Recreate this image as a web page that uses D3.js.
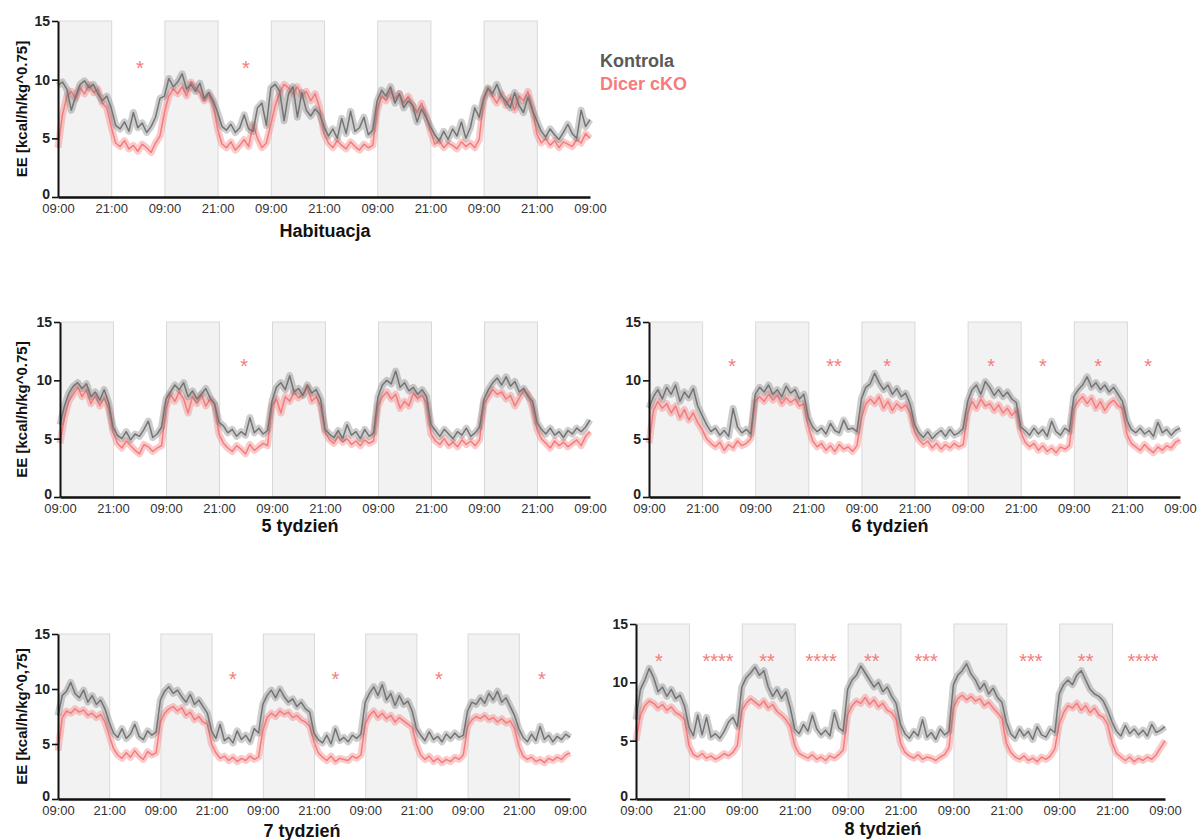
<!DOCTYPE html>
<html>
<head>
<meta charset="utf-8">
<script src="https://cdn.jsdelivr.net/npm/d3@7"></script>
<style>
  body { margin: 0; background: #fff; }
  svg { font-family: "Liberation Sans", Arial, sans-serif; }
</style>
</head>
<body>
<svg id="chart" width="1202" height="840"></svg>
<script>
// time axis: hours from 09:00 of day 1, one value per hour
const tickHours = [0, 12, 24, 36, 48, 60, 72, 84, 96, 108, 120];
const tickLabels = ["09:00","21:00","09:00","21:00","09:00","21:00","09:00","21:00","09:00","21:00","09:00"];
const shadedPeriods = [[0, 12], [24, 36], [48, 60], [72, 84], [96, 108]];
const yTicks = [0, 5, 10, 15];

// Habituacja
const habKontrola = [
  9.5, 9.8, 9.2, 7.4, 8.6, 9.6, 9.9, 9.3, 9.6, 8.8, 8.2, 8.6,
  7.6, 6.1, 5.8, 6.4, 5.6, 7.2, 5.9, 6.3, 5.5, 6.0, 6.8, 8.4,
  8.6, 10.1, 9.4, 9.8, 10.5, 9.2, 9.6, 9.0, 9.7, 8.4, 8.9, 8.2,
  7.2, 6.0, 5.7, 6.2, 5.5, 5.9, 7.0, 5.8, 5.6, 7.6, 8.0, 6.1,
  9.3, 9.6, 9.0, 6.5, 8.8, 9.4, 6.8, 8.9, 7.4, 6.9, 7.5, 7.1,
  6.0, 5.2, 5.8, 5.0, 6.7, 5.4, 7.3, 5.6, 5.9, 6.8, 5.3, 5.7,
  8.2, 9.1, 8.6, 9.4, 8.0, 8.8, 7.6, 8.2, 7.8, 6.4, 7.5, 6.8,
  6.0, 5.3, 4.8, 5.6, 4.9, 5.8, 5.2, 6.4, 5.0, 5.9, 7.6, 6.8,
  8.4, 9.3, 8.8, 9.6, 8.6, 8.2, 7.6, 8.9, 7.8, 7.2, 8.5, 7.4,
  6.5, 5.6, 5.1, 5.8, 5.3, 4.9, 5.5, 6.2, 5.4, 5.0, 7.4, 6.0,
  6.6
];
const habDicer = [
  4.2, 7.0, 8.6, 9.0, 8.4, 9.3, 8.8, 9.6, 8.9, 9.2, 8.0, 7.6,
  6.0, 4.6, 4.3, 4.8, 4.1, 4.4, 3.9, 4.5, 4.2, 3.8, 4.6, 5.2,
  7.2, 8.6, 9.2, 8.8, 9.4, 8.6, 9.8, 9.3, 8.9, 8.2, 8.7, 7.9,
  5.8, 4.5, 4.2, 4.7, 4.0, 4.4, 4.9, 4.3, 6.2, 5.0, 4.2, 4.6,
  6.2, 7.8, 8.9, 9.6, 9.3, 8.8, 9.4, 8.6, 9.0, 8.2, 8.8, 7.6,
  5.4, 4.6, 4.2, 4.8, 4.4, 4.1, 4.7, 4.3, 4.0, 4.5, 4.2, 4.4,
  7.4, 8.6, 8.2, 9.0, 8.4, 8.8, 8.0, 8.6, 7.8, 7.2, 8.0, 7.0,
  5.6, 4.5, 4.8, 4.2, 4.6, 4.4, 4.1, 4.7, 4.3, 4.6, 4.2, 4.9,
  8.2, 9.2, 8.6, 8.0, 8.8, 7.8, 8.5, 7.4, 8.6, 8.2, 9.0, 7.6,
  5.4, 4.6, 5.0, 4.4, 4.8, 4.2, 4.7, 4.5, 4.3, 4.9, 4.6, 5.4,
  5.0
];
const habStars = [[18.5, "*"], [42.4, "*"]];

// 5 tydzien
const w5Kontrola = [
  6.2, 7.8, 8.9, 9.5, 9.8, 9.3, 9.7, 8.6, 9.0, 8.3, 9.2, 8.1,
  6.0, 5.3, 5.0, 5.6, 4.9, 5.4, 5.2, 5.8, 6.5, 5.1, 5.4, 6.0,
  8.4, 9.0, 9.6, 9.2, 9.8, 8.6, 9.1, 8.4, 8.8, 9.3, 8.5, 8.0,
  6.4, 6.1, 5.5, 5.8, 5.2, 5.6, 5.3, 6.8, 5.5, 5.9, 5.4, 5.7,
  8.2, 9.4, 9.8, 9.2, 10.4, 9.0, 9.3, 8.7, 9.6, 8.9, 9.2, 8.4,
  5.8, 5.4, 5.1, 5.7, 5.0, 6.2, 5.3, 5.6, 5.0, 5.8, 5.2, 5.5,
  8.6, 9.6, 10.0, 9.7, 10.8, 9.4, 9.8, 9.1, 9.4, 8.8, 9.2, 8.6,
  6.2, 5.7, 5.2, 5.8, 5.4, 5.0, 5.6, 5.3, 5.9, 5.2, 5.5, 6.0,
  8.4, 9.2, 9.8, 10.2, 9.6, 10.3, 9.5, 9.9, 9.0, 9.3, 8.6, 8.2,
  6.4, 5.8, 5.4, 5.9, 5.3, 5.6, 5.1, 5.7, 5.4, 5.9, 5.6, 6.0,
  6.6
];
const w5Dicer = [
  4.6, 6.8, 8.2, 8.8, 9.4, 8.6, 9.2, 8.0, 8.7, 7.8, 8.5, 7.6,
  5.6, 4.6, 4.2, 4.8, 4.4, 4.0, 3.7, 4.5, 4.3, 3.9, 4.2, 4.4,
  7.6, 8.8, 8.2, 9.0, 8.4, 7.2, 8.6, 8.0, 8.8, 7.8, 8.4, 7.9,
  5.4, 4.6, 4.2, 3.9, 4.4, 4.1, 3.7, 4.5, 4.0, 4.3, 4.6, 4.4,
  7.8, 8.4, 7.2, 8.6, 8.2, 9.0, 8.5, 8.8, 9.4, 8.2, 8.6, 7.8,
  5.6, 4.9, 4.6, 5.2, 4.7, 5.0, 4.5, 4.8, 4.4, 4.9, 4.6, 4.8,
  7.8, 8.6, 9.0, 8.4, 8.8, 7.6, 8.2, 7.8, 8.9, 8.4, 8.7, 8.0,
  5.4, 4.8, 4.5, 5.0, 4.4, 4.7, 4.3, 4.9, 4.5, 4.8, 4.4, 4.9,
  8.0, 8.6, 9.2, 8.8, 9.0, 8.4, 8.7, 7.8, 8.5, 9.1, 8.8, 7.6,
  5.8, 5.0, 4.6, 4.2, 4.8, 4.4, 4.7, 4.3, 4.6, 4.9, 4.4, 5.2,
  5.6
];
const w5Stars = [[41.7, "*"]];

// 6 tydzien
const w6Kontrola = [
  7.6, 8.6, 9.2, 8.4, 9.4, 8.8, 9.6, 8.2, 9.0, 8.5, 9.3, 7.8,
  7.0, 6.2, 5.6, 5.9, 5.3, 5.7, 5.2, 7.6, 6.0, 5.5, 5.8, 5.4,
  8.8, 9.4, 9.0, 9.6, 8.8, 9.2, 8.6, 9.5, 8.9, 9.2, 8.4, 8.8,
  6.8, 6.0, 5.6, 5.9, 5.4, 6.3, 5.7, 5.5, 6.6, 5.8, 5.9, 5.6,
  8.4, 9.4, 9.7, 10.6, 9.8, 9.2, 9.6, 8.8, 9.3, 8.6, 8.9, 8.0,
  6.2, 5.5, 5.1, 5.6, 5.0, 5.4, 5.7, 5.2, 5.8, 5.3, 5.5, 5.9,
  8.2, 9.2, 9.6, 8.8, 9.9, 9.4, 8.7, 9.2, 8.6, 9.0, 8.4, 8.1,
  6.0, 5.7, 5.3, 5.9, 5.4, 5.8, 5.2, 6.5, 5.6, 5.3, 5.9, 5.6,
  8.6, 9.2, 9.6, 10.3, 9.4, 9.8, 9.2, 9.6, 9.0, 9.4, 8.8, 8.2,
  6.6, 5.8, 5.5, 5.9, 5.4, 5.7, 5.2, 6.4, 5.5, 5.8, 5.3, 5.7,
  5.9
];
const w6Dicer = [
  4.6, 7.4, 8.2, 7.6, 8.0, 7.2, 7.8, 6.8, 7.5, 6.6, 7.2, 6.4,
  5.8, 5.0, 4.6, 4.3, 4.7, 4.0, 4.5, 4.2, 4.8, 4.4, 4.6, 5.0,
  8.2, 8.6, 8.2, 8.8, 8.3, 8.7, 8.0, 8.5, 8.1, 8.4, 7.8, 8.0,
  6.0, 4.8, 4.3, 4.6, 4.0, 4.4, 3.9, 4.5, 4.1, 4.3, 3.9, 4.4,
  6.8, 8.0, 8.4, 8.0, 8.6, 7.6, 8.2, 7.4, 8.0, 7.6, 7.9, 7.2,
  5.6, 4.9, 4.5, 4.8, 4.2, 4.6, 4.1, 4.5, 4.2, 4.6, 4.3, 4.5,
  7.2, 8.2, 7.6, 8.4, 7.8, 8.0, 7.4, 7.9, 7.2, 7.6, 7.0, 7.4,
  5.6, 4.7, 4.3, 4.6, 4.0, 4.4, 3.9, 4.2, 3.8, 4.3, 4.1, 4.4,
  7.6, 8.2, 8.6, 8.0, 8.5, 7.6, 8.2, 7.4, 8.0, 8.3, 7.8, 7.6,
  5.4, 4.6, 4.3, 4.0, 4.5, 4.1, 3.8, 4.3, 4.0, 4.4, 4.2, 4.7,
  4.9
];
const w6Stars = [[18.8, "*"], [41.8, "**"], [53.8, "*"], [77.3, "*"], [89.0, "*"], [101.5, "*"], [112.8, "*"]];

// 7 tydzien
const w7Kontrola = [
  7.6, 9.4, 9.8, 10.6, 9.6, 9.2, 9.9, 8.8, 9.4, 8.6, 9.0, 8.2,
  7.0, 6.0, 5.6, 6.4, 5.5, 5.9, 6.8, 5.7, 5.4, 6.2, 5.8, 6.1,
  9.0, 9.8, 10.2, 9.6, 9.9, 9.3, 8.8, 9.5, 8.6, 9.0, 8.4, 7.8,
  6.2, 5.5, 6.8, 5.3, 5.6, 5.1, 6.2, 5.4, 5.8, 5.2, 6.4, 6.0,
  8.6, 9.4, 9.9, 9.2, 10.0, 9.3, 8.8, 9.1, 8.4, 8.8, 8.2, 7.9,
  6.0, 5.4, 5.1, 5.8, 5.0, 6.4, 5.3, 5.6, 5.2, 5.8, 5.5, 5.9,
  8.8, 9.6, 10.2, 9.4, 10.4, 9.0, 9.6, 8.5, 9.4, 8.6, 8.9, 8.0,
  6.4, 5.8, 5.3, 6.1, 5.4, 5.7, 5.2, 5.9, 5.5, 6.0, 5.6, 5.8,
  8.0, 8.8, 8.6, 9.2, 8.7, 9.6, 9.0, 9.8, 8.8, 9.2, 8.4, 7.6,
  6.4, 5.6, 5.2, 5.9, 5.3, 6.6, 5.4, 5.8, 5.2, 5.7, 5.4, 5.9,
  5.6
];
const w7Dicer = [
  4.4, 7.4, 8.0, 7.8, 8.2, 7.9, 8.1, 7.6, 7.8, 7.4, 7.7, 7.0,
  5.8, 4.6, 4.0, 3.7, 4.2, 3.8, 4.4, 3.9, 3.6, 4.3, 4.0, 4.2,
  7.0, 7.8, 8.2, 8.4, 8.0, 8.3, 7.6, 7.9, 7.2, 7.5, 7.0, 6.8,
  5.0, 4.2, 3.7, 3.9, 3.5, 3.8, 3.4, 3.7, 3.5, 3.9, 3.6, 3.8,
  6.2, 7.4, 7.8, 7.5, 8.0, 7.7, 7.9, 7.4, 7.6, 7.2, 7.0, 6.6,
  5.2, 4.2, 3.8, 3.5, 3.9, 3.4, 3.7, 3.6, 3.5, 3.9, 3.7, 4.0,
  6.8, 7.6, 8.0, 7.4, 7.8, 7.3, 7.6, 7.0, 7.4, 7.1, 6.8, 6.5,
  5.0, 4.0, 3.6, 3.9, 3.4, 3.7, 3.3, 3.6, 3.4, 3.8, 3.6, 4.0,
  6.6, 7.2, 7.5, 7.3, 7.6, 7.2, 7.4, 7.0, 7.3, 6.9, 7.1, 6.4,
  4.8, 3.9, 3.6, 3.8, 3.4, 3.6, 3.3, 3.7, 3.5, 3.8, 3.6, 4.0,
  4.2
];
const w7Stars = [[41.0, "*"], [65.0, "*"], [89.3, "*"], [113.4, "*"]];

// 8 tydzien
const w8Kontrola = [
  6.8, 9.4, 10.2, 11.2, 10.4, 9.2, 9.6, 8.8, 9.4, 8.6, 8.9, 8.0,
  6.2, 5.4, 7.2, 5.5, 7.0, 5.3, 5.6, 5.2, 5.8, 6.6, 7.0, 6.2,
  9.6, 10.4, 10.8, 11.3, 10.6, 11.0, 9.6, 8.8, 9.4, 8.6, 9.2, 7.8,
  6.0, 5.6, 6.4, 5.8, 7.2, 6.0, 5.5, 5.9, 5.4, 7.4, 6.1, 5.8,
  9.4, 10.2, 10.6, 11.4, 10.8, 10.2, 9.6, 10.0, 9.2, 9.6, 8.8, 8.2,
  6.4, 5.6, 5.2, 5.8, 5.4, 6.8, 5.3, 5.7, 5.1, 6.0, 5.5, 5.8,
  9.8, 10.6, 11.0, 11.6, 10.7, 10.2, 9.4, 9.9, 9.0, 9.5, 8.7, 8.3,
  6.6, 5.6, 5.2, 6.0, 5.4, 5.8, 5.1, 6.2, 5.5, 5.3, 6.0, 5.7,
  9.0, 9.8, 10.2, 9.8, 10.6, 11.0, 10.2, 9.4, 9.0, 8.8, 8.4, 7.6,
  6.6, 5.8, 5.4, 6.3, 5.6, 6.0, 5.5, 5.9, 5.4, 6.4, 5.7, 5.9,
  6.2
];
const w8Dicer = [
  5.0, 7.2, 8.0, 8.4, 8.2, 7.8, 8.1, 7.6, 7.9, 7.4, 7.2, 6.8,
  4.6, 3.8, 3.6, 3.9, 3.5, 3.7, 3.4, 3.6, 3.9, 3.7, 4.0, 4.6,
  7.6, 8.2, 8.6, 8.3, 8.0, 8.4, 7.8, 8.1, 7.5, 7.2, 6.8, 6.2,
  4.6, 3.9, 3.7, 3.5, 3.8, 3.4, 3.6, 3.3, 3.7, 3.5, 3.8, 4.2,
  7.2, 8.0, 8.4, 8.2, 8.7, 8.1, 8.5, 7.9, 8.2, 7.6, 7.4, 6.8,
  4.8, 4.0, 3.7, 3.5, 3.8, 3.4, 3.6, 3.5, 3.3, 3.6, 3.8, 4.4,
  7.8, 8.6, 8.9, 8.5, 8.8, 8.4, 8.6, 8.0, 8.3, 7.8, 7.4, 6.9,
  4.8, 4.0, 3.6, 3.4, 3.7, 3.3, 3.5, 3.2, 3.6, 3.4, 3.7, 4.3,
  6.4, 7.4, 8.0, 7.8, 8.2, 7.6, 8.0, 7.4, 7.8, 7.2, 7.0, 6.4,
  4.8, 3.9, 3.6, 3.3, 3.6, 3.2, 3.5, 3.3, 3.6, 3.4, 3.8, 4.4,
  5.0
];
const w8Stars = [[5.2, "*"], [18.6, "****"], [29.7, "**"], [42.0, "****"], [53.5, "**"], [65.8, "***"], [89.6, "***"], [102.0, "**"], [115.0, "****"]];

const GREY = "#747474", RED = "#f47c7c";

// layout of each panel (pixels)
const panels = [
  { title: "Habituacja", kon: habKontrola, dic: habDicer, stars: habStars,
    x0: 58, x1: 590, yb: 197, yt: 21, titleX: 325, titleY: 237, starV: 11.3, ylab: "EE [kcal/h/kg^0.75]" },
  { title: "5 tydzień", kon: w5Kontrola, dic: w5Dicer, stars: w5Stars,
    x0: 60, x1: 590, yb: 497, yt: 322, titleX: 300, titleY: 532, starV: 11.6, ylab: "EE [kcal/h/kg^0.75]" },
  { title: "6 tydzień", kon: w6Kontrola, dic: w6Dicer, stars: w6Stars,
    x0: 649, x1: 1180, yb: 497, yt: 322, titleX: 890, titleY: 532, starV: 11.6, ylab: null },
  { title: "7 tydzień", kon: w7Kontrola, dic: w7Dicer, stars: w7Stars,
    x0: 58, x1: 570, yb: 799, yt: 634, titleX: 302, titleY: 837, starV: 11.3, ylab: "EE [kcal/h/kg^0,75]" },
  { title: "8 tydzień", kon: w8Kontrola, dic: w8Dicer, stars: w8Stars,
    x0: 636, x1: 1165, yb: 799, yt: 624, titleX: 883, titleY: 835, starV: 12.2, ylab: null }
];

const svg = d3.select("#chart");

panels.forEach(p => {
  const x = d3.scaleLinear().domain([0, 120]).range([p.x0, p.x1]);
  const y = d3.scaleLinear().domain([0, 15]).range([p.yb, p.yt]);
  const g = svg.append("g");

  // light phase boxes
  g.selectAll("rect.phase").data(shadedPeriods).join("rect")
    .attr("class", "phase")
    .attr("x", d => x(d[0]) + 0.5)
    .attr("width", d => x(d[1]) - x(d[0]))
    .attr("y", y(15))
    .attr("height", y(0) - y(15))
    .attr("fill", "#f2f2f2")
    .attr("stroke", "#d9d9d9")
    .attr("stroke-width", 1);

  const line = d3.line().x((d, i) => x(i)).y(d => y(d));

  // red first, grey on top; a soft wide stroke under a thin one
  [[p.dic, RED, 0.4], [p.kon, GREY, 0.35]].forEach(([vals, col, op]) => {
    g.append("path").datum(vals)
      .attr("d", line).attr("fill", "none")
      .attr("stroke", col).attr("stroke-width", 7).attr("stroke-opacity", op)
      .attr("stroke-linejoin", "round");
    g.append("path").datum(vals)
      .attr("d", line).attr("fill", "none")
      .attr("stroke", col).attr("stroke-width", 1.5)
      .attr("stroke-linejoin", "round");
  });

  // stars
  g.selectAll("text.star").data(p.stars).join("text")
    .attr("class", "star")
    .attr("x", d => x(d[0]))
    .attr("y", y(p.starV) + 11)
    .attr("text-anchor", "middle")
    .attr("font-size", 20)
    .attr("fill", RED)
    .text(d => d[1]);

  // axes
  const yAxis = d3.axisLeft(y).tickValues(yTicks).tickSize(6).tickSizeOuter(0).tickPadding(2);
  const ya = g.append("g").attr("transform", `translate(${p.x0},0)`).call(yAxis);
  ya.select(".domain").attr("stroke", "#111").attr("stroke-width", 2);
  ya.selectAll(".tick line").attr("stroke", "#111").attr("stroke-width", 1.6);
  ya.selectAll(".tick text").attr("font-size", 14).attr("font-weight", "bold")
    .attr("fill", "#222").attr("font-family", "Liberation Sans, Arial, sans-serif")
    .attr("dy", d => d === 0 ? "0.1em" : "0.32em");

  const xAxis = d3.axisBottom(x).tickValues(tickHours).tickSize(0).tickSizeOuter(0)
    .tickPadding(7).tickFormat((d, i) => tickLabels[i]);
  const xa = g.append("g").attr("transform", `translate(0,${p.yb})`).call(xAxis);
  xa.select(".domain").attr("stroke", "#111").attr("stroke-width", 2.5);
  xa.selectAll(".tick text").attr("font-size", 13).attr("fill", "#333")
    .attr("font-family", "Liberation Sans, Arial, sans-serif");

  if (p.ylab) {
    g.append("text")
      .attr("transform", `translate(27,${(p.yb + p.yt) / 2}) rotate(-90)`)
      .attr("text-anchor", "middle")
      .attr("font-size", 15).attr("font-weight", "bold").attr("fill", "#111")
      .text(p.ylab);
  }

  g.append("text")
    .attr("x", p.titleX).attr("y", p.titleY)
    .attr("text-anchor", "middle")
    .attr("font-size", 18).attr("font-weight", "bold").attr("fill", "#111")
    .text(p.title);
});

// legend
const legend = [["Kontrola", "#595959"], ["Dicer cKO", RED]];
svg.selectAll("text.leg").data(legend).join("text")
  .attr("class", "leg")
  .attr("x", 600)
  .attr("y", (d, i) => 67 + i * 23)
  .attr("font-size", 18).attr("font-weight", "bold")
  .attr("fill", d => d[1])
  .text(d => d[0]);
</script>
</body>
</html>
